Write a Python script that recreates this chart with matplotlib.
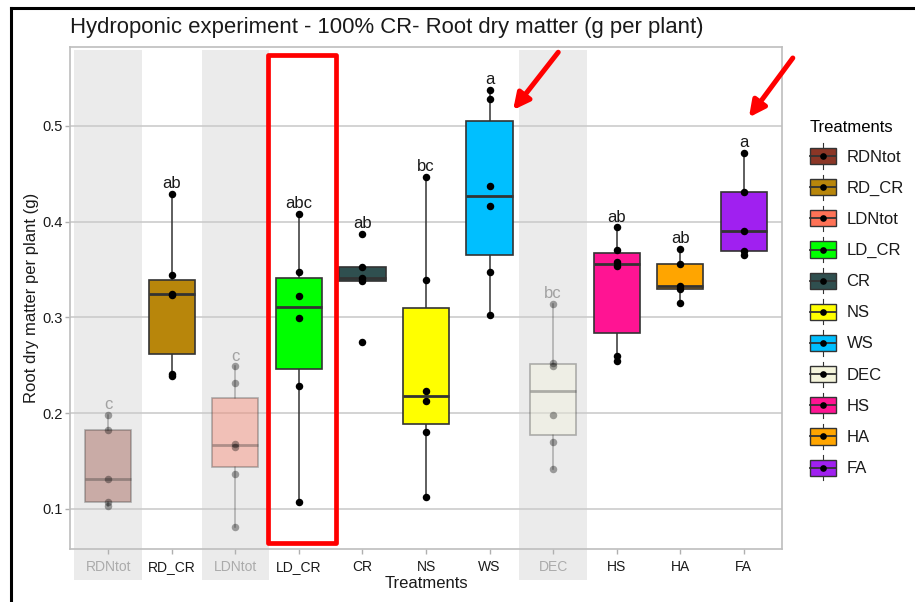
import matplotlib.pyplot as plt
import numpy as np
from matplotlib.patches import Rectangle, Patch
from matplotlib.lines import Line2D
from matplotlib.legend_handler import HandlerBase
from matplotlib.transforms import blended_transform_factory

plt.rcParams['font.family'] = ['Liberation Sans', 'DejaVu Sans']

# root dry matter per plant (g), one list per treatment
treatments = ['RDNtot', 'RD_CR', 'LDNtot', 'LD_CR', 'CR', 'NS', 'WS', 'DEC', 'HS', 'HA', 'FA']
rdntot = [0.103, 0.107, 0.131, 0.183, 0.198]
rd_cr = [0.239, 0.241, 0.324, 0.325, 0.344, 0.429]
ldntot = [0.081, 0.137, 0.165, 0.168, 0.232, 0.249]
ld_cr = [0.107, 0.228, 0.299, 0.322, 0.348, 0.408]
cr = [0.274, 0.338, 0.341, 0.353, 0.387]
ns = [0.113, 0.180, 0.213, 0.2235, 0.339, 0.447]
ws = [0.303, 0.348, 0.4165, 0.437, 0.528, 0.5375]
dec = [0.1415, 0.170, 0.198, 0.249, 0.252, 0.314]
hs = [0.2545, 0.260, 0.354, 0.358, 0.371, 0.394]
ha = [0.315, 0.330, 0.333, 0.356, 0.3715]
fa = [0.3655, 0.369, 0.390, 0.431, 0.472]
values = [rdntot, rd_cr, ldntot, ld_cr, cr, ns, ws, dec, hs, ha, fa]

# Tukey groups
letters = ['c', 'ab', 'c', 'abc', 'ab', 'bc', 'a', 'bc', 'ab', 'ab', 'a']

fill_colors = ['#8B3626', '#B8860B', '#FF7256', '#00FF00', '#2F4F4F', '#FFFF00',
               '#00BFFF', '#F5F5DC', '#FF1493', '#FFA500', '#A020F0']
faded = ['RDNtot', 'LDNtot', 'DEC']

fade_alpha = 0.35
edge = '#333333'
text_col = '#1a1a1a'


class BoxKeyHandler(HandlerBase):
    # legend key that looks like a small boxplot with a point on it
    def create_artists(self, legend, orig_handle, xdescent, ydescent, width, height, fontsize, trans):
        fc = orig_handle.get_facecolor()
        x0, y0 = -xdescent, -ydescent
        cx, cy = x0 + width / 2, y0 + height / 2
        bh = height * 0.79
        whisk = Line2D([cx, cx], [cy - height * 0.62, cy + height * 0.62], color=edge, lw=0.8, transform=trans)
        rect = Rectangle((x0, cy - bh / 2), width, bh, facecolor=fc, edgecolor=edge, lw=1.0, transform=trans)
        med = Line2D([x0, x0 + width], [cy, cy], color=edge, lw=1.3, transform=trans)
        dot = Line2D([cx], [cy], marker='o', ms=4.8, mew=0, color='black', lw=0, transform=trans)
        return [whisk, rect, med, dot]


fig = plt.figure(figsize=(9.15, 6.02), dpi=100)
ax = fig.add_axes([70 / 915, 52.7 / 602, 712 / 915, 502.6 / 602])

pos = np.arange(1, len(treatments) + 1)
ax.set_xlim(0.4, 11.6)
ax.set_ylim(0.0579, 0.5828)

# grey bands behind the excluded treatments, running down over the tick labels
band_tr = blended_transform_factory(ax.transData, fig.transFigure)
for i, name in enumerate(treatments):
    if name in faded:
        ax.add_patch(Rectangle((pos[i] - 0.53, 22 / 602), 1.06, 530 / 602, transform=band_tr,
                               facecolor='#EBEBEB', edgecolor='none', zorder=0.1, clip_on=False))

bp = ax.boxplot(values, positions=pos, widths=0.73, patch_artist=True, showfliers=False,
                showcaps=False, whis=1.5,
                boxprops=dict(edgecolor=edge, linewidth=1.2),
                whiskerprops=dict(color=edge, linewidth=1.1),
                medianprops=dict(color=edge, linewidth=2.0))

for i, name in enumerate(treatments):
    a = fade_alpha if name in faded else 1.0
    bp['boxes'][i].set_facecolor(fill_colors[i])
    bp['boxes'][i].set_alpha(a)
    bp['boxes'][i].set_zorder(2)
    bp['medians'][i].set_alpha(a)
    bp['medians'][i].set_zorder(2.1)
    for w in bp['whiskers'][2 * i:2 * i + 2]:
        w.set_alpha(a)
        w.set_zorder(1.9)
    ax.plot([pos[i]] * len(values[i]), values[i], 'o', color='black', ms=5.4, mew=0, alpha=a, zorder=3)
    ax.text(pos[i], max(values[i]) + 0.006, letters[i], ha='center', va='baseline', fontsize=12,
            color=text_col, alpha=a, zorder=3)

ax.set_yticks([0.1, 0.2, 0.3, 0.4, 0.5])
ax.set_yticklabels(['0.1', '0.2', '0.3', '0.4', '0.5'])
ax.set_xticks(pos)
ax.set_xticklabels(treatments)
ax.tick_params(axis='y', labelsize=10.5, colors='#B0B0B0', labelcolor=text_col, length=3.5, width=1, pad=2)
ax.tick_params(axis='x', labelsize=10, colors='#B0B0B0', labelcolor=text_col, length=3.5, width=1, pad=4)
for lab in ax.get_xticklabels():
    if lab.get_text() in faded:
        lab.set_color('#ABABAB')

ax.set_axisbelow(True)
ax.grid(axis='y', color='#C8C8C8', linewidth=1.1)
for sp in ax.spines.values():
    sp.set_color('#BEBEBE')
    sp.set_linewidth(1.2)

ax.set_xlabel('Treatments', fontsize=12, color=text_col, labelpad=2)
ax.set_ylabel('Root dry matter per plant (g)', fontsize=12, color=text_col, labelpad=2)

# highlight box around LD_CR and arrows at the best treatments
ax.add_patch(Rectangle((3.52, 0.0645), 1.06, 0.5095, facecolor='none', edgecolor='#FF0000',
                       linewidth=3.4, joinstyle='round', zorder=4, clip_on=False))
for tip, tail in [((7.37, 0.5167), (8.08, 0.577)), ((11.08, 0.509), (11.77, 0.571))]:
    ax.annotate('', xy=tip, xytext=tail, annotation_clip=False,
                arrowprops=dict(arrowstyle='-|>', color='#FF0000', lw=3.6, mutation_scale=24,
                                shrinkA=0, shrinkB=0))

handles = [Patch(facecolor=c) for c in fill_colors]
ax.legend(handles, treatments, title='Treatments', handler_map={Patch: BoxKeyHandler()},
          loc='upper left', bbox_to_anchor=(810 / 915, 1 - 120 / 602), bbox_transform=fig.transFigure,
          frameon=False, fontsize=12, title_fontsize=12, handlelength=1.55, handleheight=1.5,
          labelspacing=0.65, handletextpad=0.64, borderpad=0, borderaxespad=0, alignment='left',
          labelcolor=text_col)

fig.text(70 / 915, 1 - 28 / 602, 'Hydroponic experiment - 100% CR- Root dry matter (g per plant)',
         fontsize=15.9, va='center', ha='left', color=text_col)

# black frame on the left and top edges
fig.add_artist(Line2D([10.5 / 915, 10.5 / 915], [0, 1 - 7.5 / 602], transform=fig.transFigure,
                      color='black', lw=2.2))
fig.add_artist(Line2D([10.5 / 915, 1], [1 - 7.5 / 602, 1 - 7.5 / 602], transform=fig.transFigure,
                      color='black', lw=2.2))

fig.savefig('out.png', dpi=100)
